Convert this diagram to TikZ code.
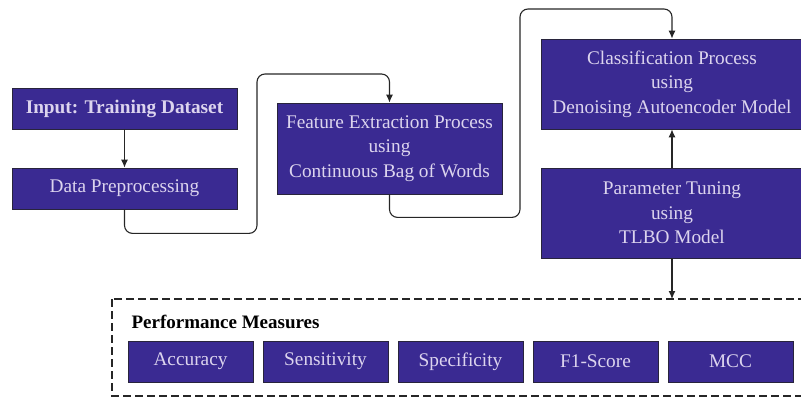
\documentclass[tikz,border=0pt]{standalone}
\usepackage{fontspec}
\setmainfont{Liberation Serif}
\usetikzlibrary{arrows.meta}
\definecolor{boxfill}{RGB}{58,42,146}
\definecolor{boxtext}{RGB}{220,212,238}
\definecolor{boxline}{RGB}{40,36,60}
\tikzset{
  procbox/.style={draw=boxline, line width=0.8pt, fill=boxfill, text=boxtext,
    align=center, inner sep=0pt, font=\fontsize{19.3}{24.5}\selectfont},
  measure/.style={procbox, minimum width=125pt, minimum height=41pt},
  flow/.style={draw=black!85, line width=1.1pt, rounded corners=8pt,
    -{Latex[length=8pt,width=7pt]}}
}
\begin{document}
\begin{tikzpicture}[x=1pt,y=-1pt]
\useasboundingbox (0,0) rectangle (801,400);

% main pipeline
\node[procbox, minimum width=225pt, minimum height=41pt] (input) at (124.5,108.5)
  {\textbf{Input: Training Dataset}};
\node[procbox, minimum width=225pt, minimum height=41pt] (prep) at (124.5,188.5)
  {Data Preprocessing};
\node[procbox, minimum width=225pt, minimum height=91pt] (feat) at (389.5,148.5)
  {Feature Extraction Process\\using\\Continuous Bag of Words};
\node[procbox, minimum width=262pt, minimum height=90pt] (cls) at (672,84)
  {Classification Process\\using\\Denoising Autoencoder Model};
\node[procbox, minimum width=262pt, minimum height=90pt] (tune) at (672,213)
  {Parameter Tuning\\using\\TLBO Model};

% performance measures group
\draw[black!85, line width=2.4pt, dash pattern=on 8pt off 4pt]
  (112,299) rectangle (806,396);
\coordinate (grouptop) at (672,299);
\node[anchor=base west, font=\fontsize{19}{22}\selectfont\bfseries] (pmlabel)
  at (128,328) {Performance Measures};
\node[measure] (acc)  at (190.5,361.5) {Accuracy};
\node[measure] (sens) at (325.5,361.5) {Sensitivity};
\node[measure] (spec) at (460.5,361.5) {Specificity};
\node[measure] (f1)   at (595.5,361.5) {F1-Score};
\node[measure] (mcc)  at (730.5,361.5) {MCC};

% connectors
\draw[flow] (input) -- (prep);
\draw[flow] (prep.south) -- ++(0,24) -| (257,74) -| (feat.north);
\draw[flow] (feat.south) -- ++(0,23) -| (520,9) -| (cls.north);
\draw[flow] (tune) -- (cls);
\draw[flow] (tune.south) -- (grouptop);
\end{tikzpicture}
\end{document}
